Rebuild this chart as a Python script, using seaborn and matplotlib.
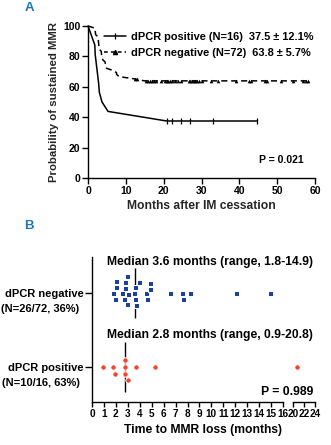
import numpy as np
import pandas as pd
import seaborn as sns
import matplotlib.pyplot as plt
from matplotlib.lines import Line2D

# ---- Panel A : Kaplan-Meier ----
pos_t = [0, 0.9, 1.8, 1.9, 2.8, 3.0, 3.7, 5.3, 20.8, 44.8]
pos_s = [100, 93.8, 87.5, 81.3, 62.5, 56.3, 50.0, 43.8, 37.5, 37.5]
pos_cens_t = [21.0, 22.3, 24.6, 27.0, 33.1, 44.8]
pos_cens_s = [37.5, 37.5, 37.5, 37.5, 37.5, 37.5]

neg_t = [0, 1.8, 1.9, 2.0, 2.5, 2.7, 2.8, 2.9, 3.0, 3.5, 3.6, 3.7, 3.9,
         4.5, 4.6, 4.9, 6.5, 7.5, 7.6, 8.2, 12.1, 14.9, 58.1]
neg_s = [100, 98.6, 97.2, 94.4, 93.1, 91.7, 88.9, 86.1, 84.7, 83.3, 80.6, 79.2, 77.8,
         76.4, 75.0, 72.2, 70.8, 69.4, 68.1, 66.7, 65.3, 63.9, 63.9]
neg_cens_t = [12.4, 12.9, 15.2, 15.8, 16.4, 16.8, 17.4, 18.0, 19.4, 20.3, 20.8, 21.2,
              21.6, 22.3, 23.0, 23.8, 24.5, 26.7, 27.0, 27.4, 28.0, 28.4, 28.7, 29.4,
              30.0, 32.6, 34.4, 39.0, 42.6, 43.2, 46.7, 47.3, 51.1, 54.2, 56.8, 57.5, 58.1]
neg_cens_s = [65.3, 65.3] + [63.9] * 35

legend_labels = ['dPCR positive (N=16)  37.5 \u00b1 12.1%',
                 'dPCR negative (N=72)  63.8 \u00b1 5.7%']

# ---- Panel B : time to MMR loss ----
groups = ['dPCR negative', 'dPCR positive']
group_n = ['(N=26/72, 36%)', '(N=10/16, 63%)']
neg_loss = [1.8, 1.9, 2.0, 2.0, 2.5, 2.7, 2.8, 2.8, 2.9, 2.9, 3.0, 3.5, 3.6,
            3.6, 3.7, 3.9, 4.5, 4.6, 4.9, 4.9, 6.5, 7.5, 7.6, 8.2, 12.1, 14.9]
pos_loss = [0.9, 1.8, 1.9, 2.8, 2.8, 2.8, 3.0, 3.7, 5.3, 20.8]
median_txt = ['Median 3.6 months (range, 1.8-14.9)',
              'Median 2.8 months (range, 0.9-20.8)']

blue = '#1f3f9c'
red = '#ee4430'
panel_col = '#1c78b6'

sns.set_style('ticks')
plt.rcParams['font.family'] = ['Liberation Sans', 'DejaVu Sans']
plt.rcParams['font.weight'] = 'bold'
plt.rcParams['axes.labelweight'] = 'bold'
plt.rcParams['font.size'] = 7.3
plt.rcParams['axes.edgecolor'] = 'k'
plt.rcParams['xtick.color'] = 'k'
plt.rcParams['ytick.color'] = 'k'
plt.rcParams['text.color'] = 'k'

W, H = 331, 445
fig = plt.figure(figsize=(W / 100, H / 100), dpi=100)

# ================= A =================
axA = fig.add_axes([88 / W, 1 - 178 / H, 227 / W, 152 / H])
kmA_pos = pd.DataFrame({'t': pos_t, 's': pos_s})
kmA_neg = pd.DataFrame({'t': neg_t, 's': neg_s})
sns.lineplot(data=kmA_pos, x='t', y='s', sort=False, color='k', lw=1.1, ax=axA, clip_on=False)
sns.lineplot(data=kmA_neg, x='t', y='s', sort=False, color='k', lw=1.1,
             ls=(0, (4, 2.5)), ax=axA, clip_on=False)
sns.scatterplot(x=pos_cens_t, y=pos_cens_s, marker='|', s=14, color='k', linewidth=0.9, ax=axA)
sns.scatterplot(x=neg_cens_t, y=neg_cens_s, marker='^', s=7, color='k', linewidth=0, ax=axA)

axA.set_xlim(0, 60)
axA.set_ylim(0, 100)
axA.set_xticks(range(0, 61, 10))
axA.set_yticks(range(0, 101, 20))
axA.tick_params(length=4, width=1, pad=1.5, labelsize=7.5)
for sp in axA.spines.values():
    sp.set_linewidth(1)
sns.despine(ax=axA)
axA.set_xlabel('Months after IM cessation', fontsize=8.7, labelpad=3)
axA.set_ylabel('Probability of sustained MMR', fontsize=8.2, labelpad=3)

handles = [Line2D([], [], color='k', lw=1.1, marker='|', ms=4, mew=0.9),
           Line2D([], [], color='k', lw=1.1, ls=(0, (2.5, 2)), marker='^', ms=3)]
axA.legend(handles, legend_labels, loc='upper left', bbox_to_anchor=(0.07, 0.96),
           frameon=False, borderpad=0, borderaxespad=0, handlelength=2.0,
           handletextpad=0.5, labelspacing=0.5, fontsize=7.9)
axA.text(0.95, 0.118, 'P = 0.021', transform=axA.transAxes, ha='right', va='center', fontsize=7.5)

# ================= B =================
axB = fig.add_axes([92 / W, 1 - 402 / H, 191 / W, 145 / H])
axB2 = fig.add_axes([293 / W, 1 - 402 / H, 22 / W, 145 / H])

dneg = pd.DataFrame({'time': neg_loss, 'group': groups[0]})
dpos = pd.DataFrame({'time': pos_loss, 'group': groups[1]})

# white edge keeps the swarm a bit looser, like the original
sns.swarmplot(data=dneg[dneg.time <= 16], x='time', y='group', order=groups,
              marker='s', color=blue, size=3.6, linewidth=0.7, edgecolor='white', ax=axB)
sns.swarmplot(data=dpos[dpos.time <= 16], x='time', y='group', order=groups,
              marker='o', color=red, size=3.9, linewidth=0.7, edgecolor='white', ax=axB)
sns.swarmplot(data=dpos[dpos.time > 16], x='time', y='group', order=groups,
              marker='o', color=red, size=3.9, linewidth=0.7, edgecolor='white', ax=axB2)

medians = [np.median(neg_loss), np.median(pos_loss)]
axB.vlines(medians, [i - 0.34 for i in range(2)], [i + 0.34 for i in range(2)],
           color='k', lw=1)

for ax in (axB, axB2):
    ax.set_ylim(1.473, -0.486)
    ax.set_xlabel('')
    ax.set_ylabel('')
    for sp in ax.spines.values():
        sp.set_linewidth(1)

axB.set_xlim(0, 16)
axB.set_xticks(range(0, 17))
axB.set_yticks([0, 1], labels=groups)
axB.tick_params(axis='x', length=3.5, width=1, pad=1.5, labelsize=7.2)
axB.tick_params(axis='y', length=5, width=1, pad=1, labelsize=8)
sns.despine(ax=axB)
for i, lab in enumerate(group_n):
    axB.annotate(lab, xy=(0, i), xycoords=('axes fraction', 'data'),
                 xytext=(-9, -11.5), textcoords='offset points',
                 ha='right', va='center', fontsize=8)

axB2.set_xlim(20, 24)
axB2.set_xticks([20, 22, 24])
axB2.set_yticks([])
axB2.tick_params(axis='x', length=3.5, width=1, pad=1.5, labelsize=7.2)
sns.despine(ax=axB2, left=True)

fig.text(210 / W, 1 - 262 / H, median_txt[0], ha='center', va='center', fontsize=8.7)
fig.text(210 / W, 1 - 335 / H, median_txt[1], ha='center', va='center', fontsize=8.7)
fig.text(313 / W, 1 - 392 / H, 'P = 0.989', ha='right', va='center', fontsize=8.8)
fig.text(203 / W, 1 - 430 / H, 'Time to MMR loss (months)', ha='center', va='center', fontsize=8.7)

for lab, y in (('A', 8), ('B', 226)):
    fig.text(29 / W, 1 - y / H, lab, ha='center', va='center', color=panel_col,
             fontsize=9.5, weight='bold', family=['Liberation Sans Narrow', 'Liberation Sans'])

fig.savefig('out.png', dpi=100)
